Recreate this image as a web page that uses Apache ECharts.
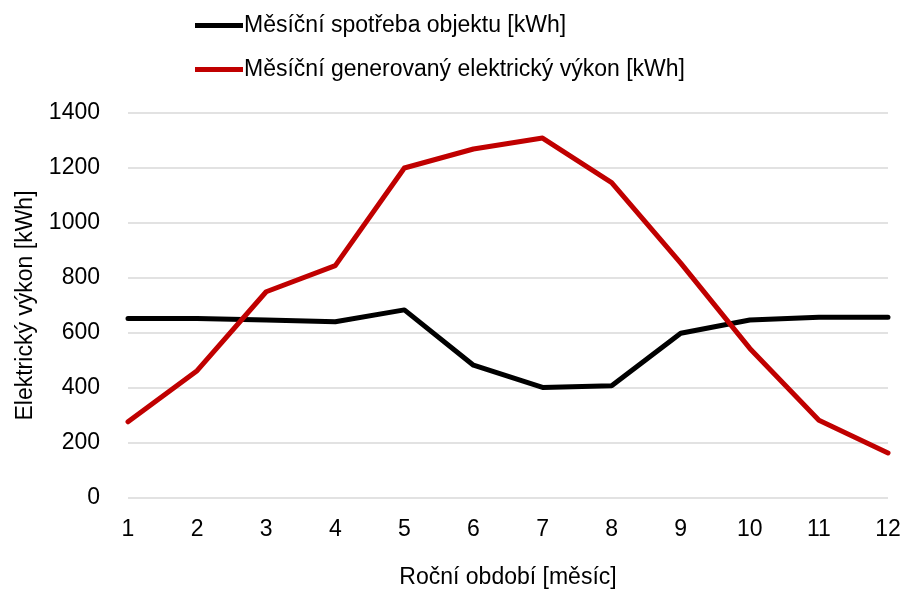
<!DOCTYPE html>
<html>
<head>
<meta charset="utf-8">
<script src="https://cdn.jsdelivr.net/npm/echarts@6/dist/echarts.min.js"></script>
<style>
  html, body { margin: 0; padding: 0; background: #fff; }
  #chart { width: 903px; height: 592px; }
</style>
</head>
<body>
<div id="chart"></div>
<script>
// Months of the year
const months = ['1', '2', '3', '4', '5', '6', '7', '8', '9', '10', '11', '12'];
// Monthly consumption of the building [kWh]
const consumption = [653, 653, 647, 641, 684, 483, 402, 408, 599, 647, 657, 657];
// Monthly generated electric output [kWh]
const generation = [277, 463, 750, 845, 1200, 1269, 1309, 1147, 854, 544, 283, 164];
// Value axis ticks
const yTicks = { min: 0, max: 1400, interval: 200 };

const seriesNames = ['Měsíční spotřeba objektu [kWh]', 'Měsíční generovaný elektrický výkon [kWh]'];
const font = 'Arial, "Liberation Sans", sans-serif';

const chart = echarts.init(document.getElementById('chart'), null, { renderer: 'canvas' });
chart.setOption({
  animation: false,
  backgroundColor: '#ffffff',
  textStyle: { fontFamily: font, color: '#000' },
  legend: {
    orient: 'vertical',
    left: 190,
    top: 9,
    itemWidth: 48,
    itemHeight: 5,
    itemGap: 21,
    icon: 'rect',
    textStyle: { fontSize: 23, color: '#000', fontFamily: font, padding: [0, 0, 0, -4] },
    data: seriesNames
  },
  grid: { left: 128, right: 15, top: 113, bottom: 94, containLabel: false, outerBoundsMode: 'none' },
  xAxis: {
    type: 'category',
    data: months,
    boundaryGap: false,
    name: 'Roční období [měsíc]',
    nameLocation: 'middle',
    nameGap: 68,
    nameTextStyle: { fontSize: 23, color: '#000', fontFamily: font },
    axisLine: { show: false },
    axisTick: { show: false },
    axisLabel: { fontSize: 23, color: '#000', margin: 20, fontFamily: font }
  },
  yAxis: {
    type: 'value',
    min: yTicks.min,
    max: yTicks.max,
    interval: yTicks.interval,
    name: 'Elektrický výkon [kWh]',
    nameLocation: 'middle',
    nameGap: 91,
    nameTextStyle: { fontSize: 23, color: '#000', fontFamily: font },
    axisLine: { show: false },
    axisTick: { show: false },
    axisLabel: { fontSize: 23, color: '#000', margin: 28, fontFamily: font, formatter: v => String(v) },
    splitLine: { lineStyle: { color: '#d9d9d9', width: 1.5 } }
  },
  series: [
    {
      name: seriesNames[0],
      type: 'line',
      data: consumption,
      showSymbol: false,
      symbol: 'none',
      color: '#000000',
      lineStyle: { width: 5, color: '#000000', join: 'round', cap: 'round' }
    },
    {
      name: seriesNames[1],
      type: 'line',
      data: generation,
      showSymbol: false,
      symbol: 'none',
      color: '#c00000',
      lineStyle: { width: 5, color: '#c00000', join: 'round', cap: 'round' }
    }
  ]
});
</script>
</body>
</html>
